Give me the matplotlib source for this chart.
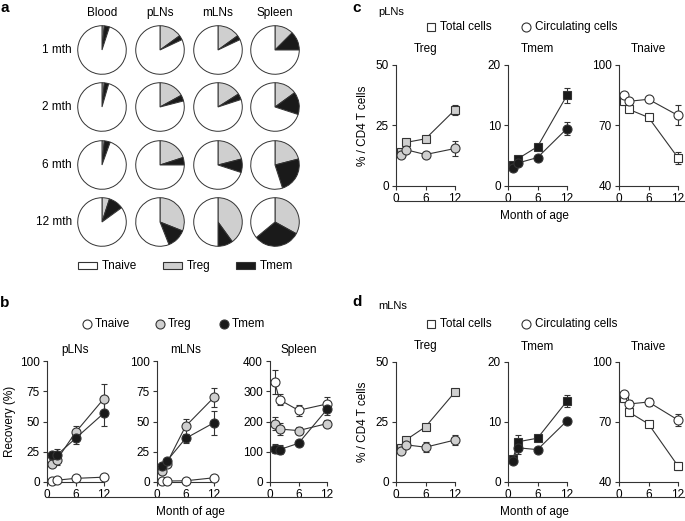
import matplotlib
matplotlib.use("Agg")
import matplotlib.pyplot as plt
from matplotlib.lines import Line2D
from matplotlib.patches import Rectangle

plt.rcParams['font.family'] = ['Liberation Sans', 'DejaVu Sans']
plt.rcParams['font.size'] = 8

W, H = 685, 521

# ---- data ----
months = [1, 2, 6, 12]
tissues_pie = ["Blood", "pLNs", "mLNs", "Spleen"]
ages_pie = ["1 mth", "2 mth", "6 mth", "12 mth"]
# % of CD4 T cells (rows = age, cols = tissue)
pie_treg = [[1.5, 15, 15, 12.5],
            [1.5, 17, 16, 15],
            [1.5, 20, 21, 21],
            [5, 31, 40, 33]]
pie_tmem = [[3.5, 3, 3, 12.5],
            [3, 4, 4, 15],
            [4, 5, 9, 24],
            [10, 13, 10, 31]]

# panel b: recovery (%)
rec_tissues = ["pLNs", "mLNs", "Spleen"]
rec_tnaive = [[1, 1.5, 3, 4], [0.5, 0.8, 1, 3.5], [330, 272, 237, 258]]
rec_tnaive_err = [[0.5, 0.5, 1, 1], [0.3, 0.3, 0.5, 1], [40, 18, 18, 22]]
rec_treg = [[15, 18, 41, 69], [9, 15, 46, 70], [193, 175, 170, 193]]
rec_treg_err = [[2, 4, 5, 12], [2, 2, 6, 8], [22, 20, 12, 12]]
rec_tmem = [[22, 22, 36, 57], [13, 17, 36, 49], [110, 107, 128, 240]]
rec_tmem_err = [[3, 5, 5, 11], [2, 2, 4, 10], [15, 15, 8, 18]]
rec_ylims = [(0, 100), (0, 100), (0, 400)]
rec_yticks = [[0, 25, 50, 75, 100], [0, 25, 50, 75, 100], [0, 100, 200, 300, 400]]

# panels c/d: % of CD4 T cells, total vs circulating
subsets = ["Treg", "Tmem", "Tnaive"]
subset_ylims = [(0, 50), (0, 20), (40, 100)]
subset_yticks = [[0, 25, 50], [0, 10, 20], [40, 70, 100]]
pln_total = [[14, 18, 19.5, 31.5], [3.5, 4.5, 6.5, 15], [82, 78, 74, 54]]
pln_total_err = [[1, 1, 1, 2], [0.5, 0.5, 0.4, 1.2], [2, 1.5, 1, 3]]
pln_circ = [[13, 15, 13, 15.5], [3, 3.8, 4.7, 9.5], [85, 82, 83, 75]]
pln_circ_err = [[1, 1, 1, 3], [0.3, 0.4, 0.3, 1], [1, 1, 1, 5]]
mln_total = [[14, 17.5, 23, 37.5], [3.8, 6.7, 7.3, 13.5], [82, 75, 69, 48]]
mln_total_err = [[1, 1, 1, 1], [0.4, 1.2, 0.5, 1], [2, 2, 1, 2]]
mln_circ = [[13, 15.5, 14.5, 17.5], [3.5, 5.7, 5.4, 10.2], [84, 79, 80, 71]]
mln_circ_err = [[1, 1, 2, 2], [0.4, 1, 0.4, 0.5], [1, 2, 2, 3]]

GREY = '#cfcfcf'
BLACK = '#1a1a1a'
EDGE = '#333333'
subset_colors = {"Tnaive": 'white', "Treg": GREY, "Tmem": BLACK}


def box(l, t, r, b):
    return [l / W, 1 - b / H, (r - l) / W, (b - t) / H]


def ftext(x, y, s, **kw):
    fig.text(x / W, 1 - y / H, s, **kw)


def fline(x0, x1, y):
    fig.add_artist(Line2D([x0 / W, x1 / W], [1 - y / H, 1 - y / H],
                          color=EDGE, lw=0.8, transform=fig.transFigure))


def fmarker(x, y, marker, face, size=6):
    fig.add_artist(Line2D([x / W], [1 - y / H], marker=marker, ms=size,
                          mfc=face, mec=EDGE, mew=0.8, ls='none',
                          transform=fig.transFigure))


def style_axes(ax, ylim, yticks):
    ax.set_xlim(0, 12)
    ax.set_ylim(*ylim)
    ax.set_xticks([0, 6, 12])
    ax.set_yticks(yticks)
    ax.spines['top'].set_visible(False)
    ax.spines['right'].set_visible(False)
    for s in ('left', 'bottom'):
        ax.spines[s].set_color(EDGE)
        ax.spines[s].set_linewidth(0.8)
    ax.tick_params(length=3, width=0.8, color=EDGE, labelsize=8.5, pad=2)
    ax.patch.set_alpha(0)


def series(ax, y, err, marker, face, size):
    ax.errorbar(months, y, yerr=err, fmt='-', marker=marker, ms=size,
                mfc=face, mec=EDGE, mew=0.8, color=EDGE, lw=0.8,
                ecolor=EDGE, elinewidth=0.8, capsize=2.2, capthick=0.8,
                clip_on=False, zorder=3)


fig = plt.figure(figsize=(W / 100, H / 100), dpi=100)

# ---- panel a: pies ----
pie_cx = [102, 160, 218, 275]
pie_cy = [50, 107, 165, 222]
R = 25
for i, age in enumerate(ages_pie):
    for j, tissue in enumerate(tissues_pie):
        ax = fig.add_axes(box(pie_cx[j] - R, pie_cy[i] - R, pie_cx[j] + R, pie_cy[i] + R))
        treg = pie_treg[i][j]
        tmem = pie_tmem[i][j]
        ax.pie([treg, tmem, 100 - treg - tmem], colors=[GREY, BLACK, 'white'],
               startangle=90, counterclock=False,
               wedgeprops=dict(edgecolor=EDGE, linewidth=0.7))
        ax.set_xlim(-1.03, 1.03)
        ax.set_ylim(-1.03, 1.03)
        ax.axis('off')
for j, tissue in enumerate(tissues_pie):
    ftext(pie_cx[j], 13, tissue, ha='center', va='center', fontsize=8.5)
for i, age in enumerate(ages_pie):
    ftext(72, pie_cy[i], age, ha='right', va='center', fontsize=8.5)

leg_x = [78, 163, 236]
for k, name in enumerate(["Tnaive", "Treg", "Tmem"]):
    fig.add_artist(Rectangle((leg_x[k] / W, 1 - 269 / H), 19 / W, 7 / H,
                             facecolor=subset_colors[name], edgecolor=EDGE,
                             lw=0.8, transform=fig.transFigure))
    ftext(leg_x[k] + 24, 266, name, ha='left', va='center', fontsize=8.5)

ftext(5, 8, 'a', ha='center', va='center', fontsize=11, fontweight='bold')

# ---- panel b: recovery ----
ftext(5, 303, 'b', ha='center', va='center', fontsize=11, fontweight='bold')
b_left = [47, 157, 270]
for k, name in enumerate(["Tnaive", "Treg", "Tmem"]):
    cx = [87, 160, 224][k]
    fmarker(cx, 324, 'o', subset_colors[name], 6.5)
    ftext(cx + 8, 324, name, ha='left', va='center', fontsize=8.5)

for t, tissue in enumerate(rec_tissues):
    ax = fig.add_axes(box(b_left[t], 361, b_left[t] + 57, 482))
    style_axes(ax, rec_ylims[t], rec_yticks[t])
    series(ax, rec_tnaive[t], rec_tnaive_err[t], 'o', 'white', 6.5)
    series(ax, rec_treg[t], rec_treg_err[t], 'o', GREY, 6.5)
    series(ax, rec_tmem[t], rec_tmem_err[t], 'o', BLACK, 6.5)
    ax.set_title(tissue, fontsize=8.5, pad=6)
    if t == 0:
        ax.set_ylabel('Recovery (%)', fontsize=8.5, labelpad=3)
fline(46, 330, 497)
ftext(190, 512, 'Month of age', ha='center', va='center', fontsize=8.5)

# ---- panels c and d ----
cd_left = [396, 508, 619]
for letter, tissue, top, bottom, total, total_err, circ, circ_err in [
        ('c', 'pLNs', 65, 186, pln_total, pln_total_err, pln_circ, pln_circ_err),
        ('d', 'mLNs', 362, 482, mln_total, mln_total_err, mln_circ, mln_circ_err)]:
    yl = 8 if letter == 'c' else 302
    ftext(357, yl, letter, ha='center', va='center', fontsize=11, fontweight='bold')
    ftext(378, yl + 4, tissue, ha='left', va='center', fontsize=8)
    ly = top - 38
    fmarker(431, ly, 's', 'white', 6)
    ftext(440, ly, 'Total cells', ha='left', va='center', fontsize=8.5)
    fmarker(526, ly, 'o', 'white', 6.5)
    ftext(535, ly, 'Circulating cells', ha='left', va='center', fontsize=8.5)
    for s, name in enumerate(subsets):
        ax = fig.add_axes(box(cd_left[s], top, cd_left[s] + 59, bottom))
        style_axes(ax, subset_ylims[s], subset_yticks[s])
        face = subset_colors[name]
        series(ax, total[s], total_err[s], 's', face, 6)
        series(ax, circ[s], circ_err[s], 'o', face, 6.5)
        ax.set_title(name, fontsize=8.5, pad=9)
        if s == 0:
            ax.set_ylabel('% / CD4 T cells', fontsize=8.5, labelpad=5)
    fline(396, 685, bottom + 15)
    ftext(534, bottom + 30, 'Month of age', ha='center', va='center', fontsize=8.5)

fig.savefig('out.png', dpi=100)
